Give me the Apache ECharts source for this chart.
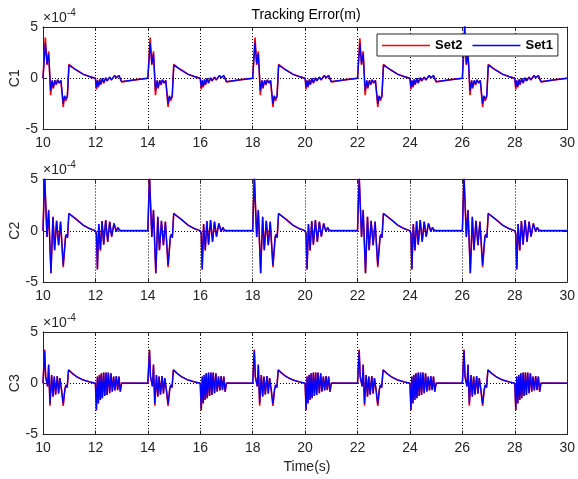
<!DOCTYPE html>
<html><head><meta charset="utf-8">
<script src="https://cdn.jsdelivr.net/npm/echarts@6/dist/echarts.min.js"></script>
<style>html,body{margin:0;padding:0;background:#fff}#c{width:578px;height:479px}</style>
</head><body><div id="c"></div>
<script>
// ---- data (values in units of 1e-4 m) ----
const xTicks = [10, 12, 14, 16, 18, 20, 22, 24, 26, 28, 30];
const yTicks = [-5, 0, 5];
const segAStarts = [10, 14, 18, 22, 26];
const segBStarts = [12, 16, 20, 24, 28];

// C1
const c1A_t = [0, 0.089, 0.152, 0.215, 0.291, 0.354, 0.392, 0.455, 0.506, 0.557, 0.62, 0.683, 0.772, 0.82, 0.87, 0.93, 0.99, 1.14, 1.28, 1.53, 1.78, 2.0];
const c1A_set1 = [0, 3.45, 1.4, 2.4, -1.2, -0.2, -0.9, -0.2, -0.6, -0.15, -0.45, -0.2, -2.5, -1.7, -2.0, -1.7, 1.3, 1.02, 0.78, 0.39, 0.16, 0];
const c1A_set2 = [0, 3.97, 1.3, 2.63, -1.66, -0.22, -1.0, -0.22, -0.65, -0.17, -0.48, -0.22, -2.8, -1.8, -2.2, -1.8, 1.36, 1.04, 0.8, 0.4, 0.16, 0];
const c1Peak_set1 = [3.45, 3.45, 3.5, 3.4, 5.6];
const c1Peak_set2 = [3.97, 3.97, 3.97, 3.9, 4.0];
const c1B_t = [0, 0.038, 0.076, 0.114, 0.164, 0.2, 0.266, 0.316, 0.392, 0.443, 0.544, 0.607, 0.734, 0.797, 0.898, 0.95, 1.0, 1.5, 2.0];
const c1B_set1 = [0, -0.9, -0.2, -0.8, -0.1, -0.6, 0, -0.45, 0.05, -0.25, 0.12, -0.15, 0.26, 0.05, 0.26, 0.2, -0.33, -0.15, 0];
const c1B_set2 = [0, -1.1, -0.22, -0.9, -0.12, -0.65, -0.02, -0.48, 0.03, -0.27, 0.11, -0.17, 0.26, 0.04, 0.26, 0.2, -0.35, -0.16, 0];

// C2
const c2A_t = [0, 0.063, 0.152, 0.215, 0.304, 0.38, 0.443, 0.519, 0.595, 0.67, 0.772, 0.86, 0.9, 0.935, 0.987, 1.13, 1.278, 1.53, 1.784, 2.0];
const c2A_set1 = [0, 5.3, -0.6, 2.0, -4.15, 1.36, -1.9, 0.97, -1.4, 0.88, -3.35, -0.6, -0.35, -0.7, 1.69, 1.4, 1.1, 0.55, 0.2, 0];
const c2A_set2 = [0, 5.4, -0.6, 2.05, -4.15, 1.36, -1.9, 0.97, -1.4, 0.9, -3.55, -0.55, -0.35, -0.65, 1.69, 1.4, 1.1, 0.55, 0.2, 0];
const c2B_t = [0, 0.038, 0.076, 0.127, 0.19, 0.253, 0.316, 0.392, 0.468, 0.544, 0.62, 0.708, 0.797, 0.86, 0.923, 1.0, 2.0];
const c2B_set1 = [0, -0.3, -3.77, 0.65, -1.88, 0.94, -1.33, 1.04, -1.07, 0.88, -0.58, 0.71, -0.1, 0.32, 0, 0, 0];
const c2B_set2 = [0, -0.3, -3.77, 0.66, -1.95, 0.95, -1.35, 1.05, -1.08, 0.9, -0.58, 0.72, -0.08, 0.33, 0.05, 0.04, 0.02];

// C3
const c3A_t = [0, 0.063, 0.101, 0.177, 0.215, 0.266, 0.329, 0.38, 0.43, 0.481, 0.544, 0.595, 0.645, 0.708, 0.772, 0.835, 0.873, 0.923, 0.974, 1.12, 1.278, 1.53, 1.784, 2.0];
const c3A_set1 = [0, 3.18, 0.65, -0.3, 1.8, -2.0, 0.8, -1.3, 0.65, -1.1, 0.7, -1.0, 0.5, -0.65, -2.05, -0.6, -0.16, -0.4, 1.3, 0.95, 0.65, 0.32, 0.13, 0];
const c3A_set2 = [0, 3.3, 0.62, -0.32, 1.82, -2.2, 0.8, -1.32, 0.66, -1.12, 0.7, -1.02, 0.5, -0.67, -2.2, -0.58, -0.18, -0.42, 1.32, 0.96, 0.65, 0.32, 0.13, 0];
const c3B_t = [0, 0.038, 0.076, 0.114, 0.152, 0.19, 0.228, 0.266, 0.316, 0.354, 0.405, 0.443, 0.493, 0.544, 0.595, 0.645, 0.696, 0.746, 0.797, 0.847, 0.898, 0.949, 1.0, 2.0];
const c3B_set1 = [0, -2.6, 0.65, -1.95, 0.8, -1.6, 0.97, -1.46, 1.04, -1.23, 1.04, -1.14, 1.04, -0.97, 0.97, -0.8, 0.65, -0.7, 0.7, -0.65, 0.65, -0.8, 0, 0];
const c3B_set2 = [0, -2.65, 0.66, -1.97, 0.82, -1.62, 0.98, -1.47, 1.05, -1.24, 1.05, -1.15, 1.05, -0.98, 0.98, -0.82, 0.66, -0.71, 0.71, -0.67, 0.66, -0.85, 0.03, 0];

const subplotNames = ['C1', 'C2', 'C3'];

// ---- assemble series data from the read segments ----
function build(tA, vA, tB, vB, peaks) {
  const out = [];
  segAStarts.forEach((s, k) => {
    tA.forEach((t, i) => {
      if (k > 0 && i === 0) return;
      out.push([+(s + t).toFixed(3), (peaks && i === 1) ? peaks[k] : vA[i]]);
    });
    tB.forEach((t, i) => {
      if (i === 0) return;
      out.push([+(segBStarts[k] + t).toFixed(3), vB[i]]);
    });
  });
  return out;
}
const set1 = [
  build(c1A_t, c1A_set1, c1B_t, c1B_set1, c1Peak_set1),
  build(c2A_t, c2A_set1, c2B_t, c2B_set1),
  build(c3A_t, c3A_set1, c3B_t, c3B_set1)
];
const set2 = [
  build(c1A_t, c1A_set2, c1B_t, c1B_set2, c1Peak_set2),
  build(c2A_t, c2A_set2, c2B_t, c2B_set2),
  build(c3A_t, c3A_set2, c3B_t, c3B_set2)
];

// ---- chart ----
const FONT = '"Liberation Sans", Arial, Helvetica, sans-serif';
const AX = '#262626';
const tops = [27, 179.5, 332];
const H = 102.5;
const grids = tops.map(t => ({ left: 43, right: 8, top: t, height: H }));
const xAxes = [], yAxes = [], series = [], graphics = [];
tops.forEach((t, g) => {
  xAxes.push({
    type: 'value', gridIndex: g, min: xTicks[0], max: xTicks[xTicks.length - 1], interval: 2,
    position: 'bottom',
    axisLine: { show: true, onZero: false, lineStyle: { color: AX, width: 1 } },
    axisTick: { show: true, inside: true, length: 4, lineStyle: { color: AX } },
    axisLabel: { color: AX, fontSize: 14, fontFamily: FONT, margin: 7 },
    splitLine: { show: true, lineStyle: { color: '#000', type: [1, 2], width: 1 } }
  });
  yAxes.push({
    type: 'value', gridIndex: g, min: yTicks[0], max: yTicks[2], interval: 5,
    position: 'left',
    axisLine: { show: true, onZero: false, lineStyle: { color: AX, width: 1 } },
    axisTick: { show: true, inside: true, length: 4, lineStyle: { color: AX } },
    axisLabel: { color: AX, fontSize: 14, fontFamily: FONT, margin: 5 },
    splitLine: { show: true, lineStyle: { color: '#000', type: [1, 2], width: 1 } }
  });
});
tops.forEach((t, g) => {
  xAxes.push({
    type: 'value', gridIndex: g, min: 10, max: 30, interval: 2, position: 'top',
    axisLine: { show: true, onZero: false, lineStyle: { color: AX, width: 1 } },
    axisTick: { show: true, inside: true, length: 4, lineStyle: { color: AX } },
    axisLabel: { show: false }, splitLine: { show: false }
  });
  yAxes.push({
    type: 'value', gridIndex: g, min: -5, max: 5, interval: 5, position: 'right',
    axisLine: { show: true, onZero: false, lineStyle: { color: AX, width: 1 } },
    axisTick: { show: true, inside: true, length: 4, lineStyle: { color: AX } },
    axisLabel: { show: false }, splitLine: { show: false }
  });
  series.push({
    name: 'Set2', type: 'line', xAxisIndex: g, yAxisIndex: g, data: set2[g],
    symbol: 'none', showSymbol: false, sampling: false, clip: true, z: 2,
    lineStyle: { color: '#ff0000', width: 1.6 }, itemStyle: { color: '#ff0000' }
  });
  series.push({
    name: 'Set1', type: 'line', xAxisIndex: g, yAxisIndex: g, data: set1[g],
    symbol: 'none', showSymbol: false, sampling: false, clip: true, z: 3,
    lineStyle: { color: '#0000ff', width: 1.3 }, itemStyle: { color: '#0000ff' }
  });
  graphics.push({
    type: 'text', x: 15, y: t + H / 2, rotation: Math.PI / 2,
    style: { text: subplotNames[g], fontSize: 14, fontFamily: FONT, fill: AX, align: 'center', verticalAlign: 'middle' }
  });
  graphics.push({
    type: 'text', x: 43, y: t - 2,
    style: { text: '\u00d710', fontSize: 14, fontFamily: FONT, fill: AX, align: 'left', verticalAlign: 'bottom' }
  });
  graphics.push({
    type: 'text', x: 67, y: t - 9,
    style: { text: '-4', fontSize: 10, fontFamily: FONT, fill: AX, align: 'left', verticalAlign: 'bottom' }
  });
});
graphics.push({
  type: 'text', x: 306, y: 15,
  style: { text: 'Tracking Error(m)', fontSize: 14, fontFamily: FONT, fill: '#000', align: 'center', verticalAlign: 'middle' }
});
graphics.push({
  type: 'text', x: 307, y: 467,
  style: { text: 'Time(s)', fontSize: 14, fontFamily: FONT, fill: AX, align: 'center', verticalAlign: 'middle' }
});

const chart = echarts.init(document.getElementById('c'), null, { renderer: 'canvas' });
chart.setOption({
  animation: false,
  backgroundColor: '#fff',
  grid: grids,
  xAxis: xAxes,
  yAxis: yAxes,
  series: series,
  legend: {
    data: [
      { name: 'Set2', icon: 'rect', itemStyle: { color: '#ff0000' } },
      { name: 'Set1', icon: 'rect', itemStyle: { color: '#0000ff' } }
    ],
    left: 377, top: 34, orient: 'horizontal',
    itemWidth: 48, itemHeight: 1.5, itemGap: 10, padding: [4, 5, 3, 5],
    backgroundColor: '#fff', borderColor: AX, borderWidth: 1, borderRadius: 0,
    textStyle: { fontSize: 13, fontWeight: 'bold', fontFamily: FONT, color: '#000', lineHeight: 15 },
    selectedMode: false
  },
  graphic: graphics
});
</script></body></html>
